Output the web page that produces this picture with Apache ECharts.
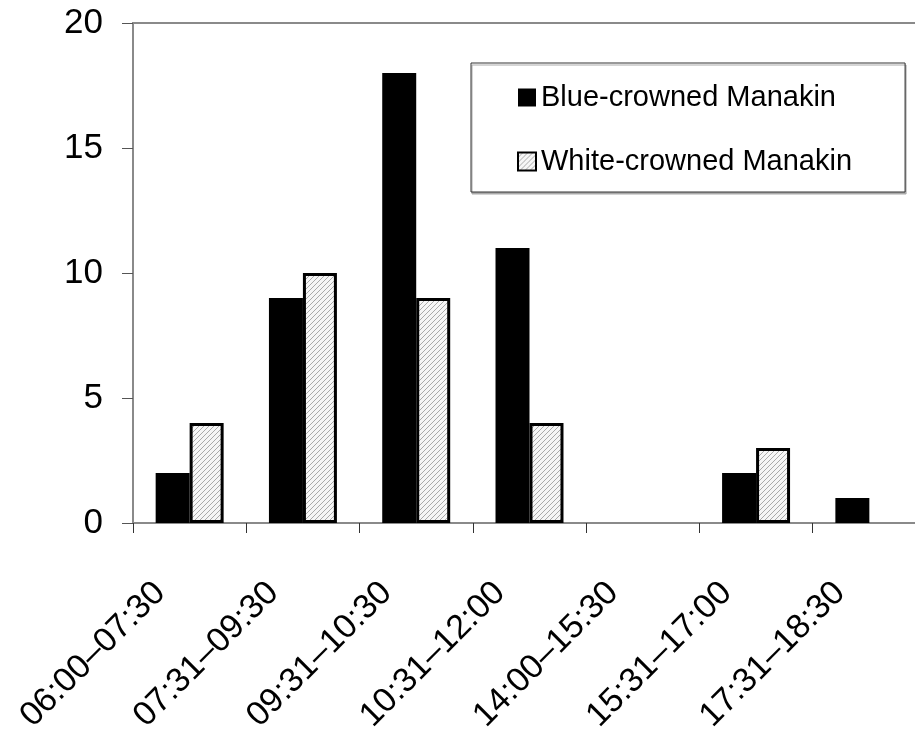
<!DOCTYPE html>
<html>
<head>
<meta charset="utf-8">
<script src="https://cdn.jsdelivr.net/npm/echarts@6/dist/echarts.min.js"></script>
<style>html,body{margin:0;padding:0;background:#fff;}#c{width:915px;height:740px;}</style>
</head>
<body>
<div id="c"></div>
<script>
const categories = ["06:00–07:30","07:31–09:30","09:31–10:30","10:31–12:00","14:00–15:30","15:31–17:00","17:31–18:30"];
const blueCrowned = [2, 9, 18, 11, 0, 2, 1];
const whiteCrowned = [4, 10, 9, 4, 0, 3, 0];
const yTicks = [0, 5, 10, 15, 20];

function hatch() {
  const c = document.createElement('canvas');
  c.width = 5; c.height = 5;
  const g = c.getContext('2d');
  g.fillStyle = '#f6f6f6';
  g.fillRect(0, 0, 5, 5);
  g.fillStyle = '#aaaaaa';
  for (let i = 0; i < 5; i++) { g.fillRect(i, 4 - i, 1, 1); }
  return c;
}
const pat = { image: hatch(), repeat: 'repeat' };
const FONT = '"Liberation Sans", Arial, sans-serif';
const hideZero = arr => arr.map(v => v === 0 ? '-' : v);

const chart = echarts.init(document.getElementById('c'), null, { renderer: 'canvas' });
chart.setOption({
  backgroundColor: '#fff',
  animation: false,
  textStyle: { fontFamily: FONT, color: '#000' },
  grid: { left: 133, top: 23, width: 793, height: 500, show: true, borderColor: '#8a8a8a', borderWidth: 2, outerBoundsMode: 'none', containLabel: false },
  legend: {
    orient: 'vertical', left: 471, top: 63,
    backgroundColor: '#fff', borderColor: '#333', borderWidth: 1,
    shadowColor: '#aaa', shadowOffsetX: 1, shadowOffsetY: 2, shadowBlur: 0,
    padding: [20, 53, 16, 46],
    itemGap: 35, itemWidth: 18, itemHeight: 18,
    textStyle: { fontSize: 29, fontFamily: FONT, color: '#000' },
    data: [
      { name: 'Blue-crowned Manakin', icon: 'rect' },
      { name: 'White-crowned Manakin', icon: 'rect', itemStyle: { borderWidth: 2, borderColor: '#000' } }
    ]
  },
  xAxis: {
    type: 'category', data: categories, boundaryGap: true,
    axisLine: { lineStyle: { color: '#8a8a8a', width: 2 } },
    axisTick: { show: true, length: 10, lineStyle: { color: '#333', width: 1 } },
    axisLabel: { rotate: 45, fontSize: 34, fontFamily: FONT, color: '#000', margin: 35, interval: 0, padding: [0, 42, 8, 0] }
  },
  yAxis: {
    type: 'value', min: 0, max: 20, interval: 5,
    axisLine: { show: true, lineStyle: { color: '#8a8a8a', width: 2 } },
    axisTick: { show: true, length: 11, lineStyle: { color: '#555' } },
    splitLine: { show: false },
    axisLabel: { fontSize: 35, fontFamily: FONT, color: '#000', margin: 30,
      formatter: v => yTicks.indexOf(v) >= 0 ? String(v) : '' }
  },
  series: [
    { name: 'Blue-crowned Manakin', type: 'bar', data: hideZero(blueCrowned), barGap: '0%', barCategoryGap: '40%',
      itemStyle: { color: '#000' } },
    { name: 'White-crowned Manakin', type: 'bar', data: hideZero(whiteCrowned), barGap: '0%', barCategoryGap: '40%',
      itemStyle: { color: pat, borderColor: '#000', borderWidth: 3 } }
  ]
});
</script>
</body>
</html>
